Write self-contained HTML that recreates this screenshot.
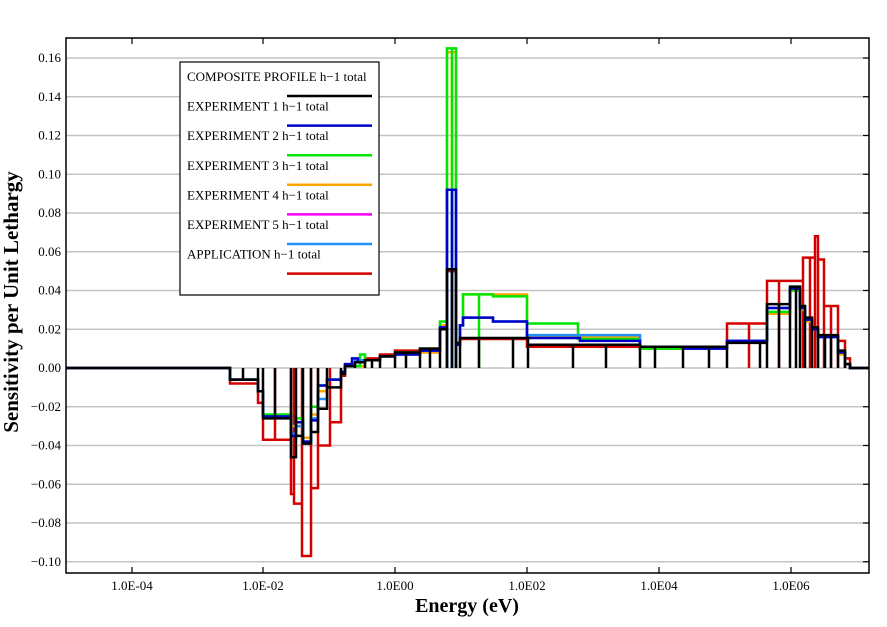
<!DOCTYPE html>
<html><head><meta charset="utf-8"><style>
body{margin:0;background:#fff;}
svg{display:block;font-family:"Liberation Serif",serif;}
</style></head><body>
<svg id="s" width="887" height="627" xmlns="http://www.w3.org/2000/svg">
<rect width="887" height="627" fill="#fff"/>
<g id="grid"></g>
<g id="series" fill="none" stroke-width="2.5" stroke-linejoin="miter"></g>
<rect x="66" y="38" width="803" height="535" fill="none" stroke="#000" stroke-width="1.5"/>
<g id="ticks" stroke="#000" stroke-width="1.2"></g>
<g id="labels" font-size="13"></g>
<text x="467" y="612" font-size="20" font-weight="bold" text-anchor="middle">Energy (eV)</text>
<text transform="translate(18,302) rotate(-90)" font-size="21" font-weight="bold" text-anchor="middle">Sensitivity per Unit Lethargy</text>
<g id="legend"></g>
</svg>
<script>
var NS="http://www.w3.org/2000/svg";
function el(p,t,a,txt){var e=document.createElementNS(NS,t);for(var k in a)e.setAttribute(k,a[k]);if(txt)e.textContent=txt;document.getElementById(p).appendChild(e);return e;}
function Y(v){return 368-v*1937.5;}
for(var i=-5;i<=8;i++){var v=i*0.02,y=Y(v);
 el("grid","line",{x1:66,x2:869,y1:y,y2:y,stroke:"#c4c4c4","stroke-width":1.5});
 el("ticks","line",{x1:863,x2:869,y1:y,y2:y});
 el("labels","text",{x:61,y:y+4,"text-anchor":"end"},v.toFixed(2).replace("-","\u2212"));}
var xl=[[132,"1.0E-04"],[263,"1.0E-02"],[395,"1.0E00"],[527,"1.0E02"],[659,"1.0E04"],[791,"1.0E06"]];
xl.forEach(function(a){el("ticks","line",{x1:a[0],x2:a[0],y1:573,y2:567});el("ticks","line",{x1:a[0],x2:a[0],y1:38,y2:44});
 el("labels","text",{x:a[0],y:590,"text-anchor":"middle"},a[1]);});
function val(d,x){var v=0;for(var i=0;i<d.length;i++){if(d[i][0]<=x)v=d[i][1];}return v;}
function draw(d,col,drops,all){
 var p="M66,368 H"+d[0][0];
 for(var i=0;i<d.length;i++){var y=Y(d[i][1]);p+=" V"+y+" H"+(i<d.length-1?d[i+1][0]:869);}
 if(all){for(var i=0;i<d.length-1;i++){var x=d[i][0];p+=" M"+x+",368 V"+Y(d[i][1]);p+=" M"+d[i+1][0]+",368 V"+Y(d[i][1]);}}
 (drops||[]).forEach(function(x){p+=" M"+x+",368 V"+Y(val(d,x));});
 el("series","path",{d:p,stroke:col});}
var red=[[230,-.008],[258,-.018],[263,-.037],[291,-.065],[294,-.070],[302,-.097],[311,-.062],[318,-.040],[330,-.028],[341,-.004],[345,.001],[355,.003],[365,.005],[380,.007],[395,.009],[420,.010],[440,.020],[447,.050],[456,.013],[460,.015],[527,.011],[640,.010],[683,.011],[727,.023],[767,.045],[803,.057],[815,.068],[818,.056],[824,.032],[838,.014],[845,.005],[850,0]];
var green=[[230,-.006],[258,-.012],[263,-.024],[291,-.035],[296,-.026],[303,-.038],[311,-.020],[318,-.009],[327,-.006],[341,-.002],[345,.001],[360,.007],[365,.004],[380,.006],[395,.008],[420,.010],[440,.024],[447,.165],[456,.013],[460,.022],[463,.038],[493,.037],[527,.023],[578,.015],[640,.010],[683,.011],[727,.014],[767,.029],[790,.040],[800,.032],[805,.025],[812,.021],[818,.017],[825,.016],[838,.009],[845,.002],[850,0]];
var orange=[[230,-.006],[258,-.012],[263,-.025],[291,-.030],[303,-.036],[311,-.024],[318,-.012],[327,-.006],[341,-.002],[345,.001],[365,.004],[380,.006],[395,.007],[420,.008],[440,.022],[447,.163],[456,.013],[460,.022],[463,.038],[527,.016],[640,.010],[683,.011],[727,.014],[767,.028],[790,.040],[800,.030],[805,.024],[812,.020],[818,.016],[838,.007],[845,.002],[850,0]];
var lblue=[[230,-.006],[258,-.012],[263,-.025],[291,-.034],[296,-.030],[303,-.038],[311,-.026],[318,-.016],[327,-.006],[341,-.002],[345,.002],[355,.004],[365,.004],[380,.006],[395,.007],[420,.009],[440,.021],[447,.092],[456,.012],[460,.022],[463,.026],[493,.024],[527,.017],[640,.011],[683,.010],[727,.014],[767,.031],[790,.041],[800,.031],[805,.025],[812,.020],[818,.016],[838,.008],[845,.002],[850,0]];
var blue=[[230,-.006],[258,-.012],[263,-.025],[291,-.035],[296,-.028],[303,-.038],[311,-.027],[318,-.009],[327,-.006],[341,-.002],[345,.002],[352,.005],[358,.003],[365,.004],[380,.006],[395,.007],[420,.009],[440,.021],[447,.092],[456,.012],[460,.022],[463,.026],[493,.024],[527,.0155],[580,.014],[640,.011],[683,.010],[727,.014],[767,.031],[790,.041],[800,.031],[805,.025],[812,.020],[818,.016],[825,.016],[838,.008],[845,.002],[850,0]];
var black=[[230,-.006],[243,-.006],[258,-.012],[263,-.026],[275,-.026],[291,-.046],[296,-.035],[303,-.039],[311,-.033],[318,-.021],[327,-.010],[341,-.003],[345,.001],[355,.003],[365,.004],[372,.004],[380,.006],[395,.008],[406,.008],[420,.010],[430,.010],[440,.020],[447,.051],[452,.051],[456,.013],[460,.0155],[479,.0155],[513,.0155],[528,.012],[573,.012],[606,.012],[640,.011],[655,.011],[683,.011],[709,.011],[727,.013],[760,.013],[767,.033],[779,.033],[790,.042],[796,.042],[800,.032],[805,.026],[812,.021],[818,.017],[825,.017],[831,.017],[838,.009],[845,.002],[850,0]];
var pk=[447,452,456];
draw(red,"#d40000",[275,291,294,302,311,318,330,749,779,803,810,815,818,824,831,838,845]);
draw(orange,"#ffa500",pk);
draw(green,"#00e600",pk.concat([479]));
draw(lblue,"#2090ff",pk);
draw(blue,"#0000c8",pk);
draw(black,"#000",[],true);
el("legend","rect",{x:180,y:62,width:199,height:233,fill:"#fff",stroke:"#000","stroke-width":1.2});
var L=[["COMPOSITE PROFILE h\u22121 total","#000"],["EXPERIMENT 1 h\u22121 total","#0000c8"],["EXPERIMENT 2 h\u22121 total","#00e600"],["EXPERIMENT 3 h\u22121 total","#ffa500"],["EXPERIMENT 4 h\u22121 total","#ff00ff"],["EXPERIMENT 5 h\u22121 total","#2090ff"],["APPLICATION h\u22121 total","#d40000"]];
L.forEach(function(a,i){var y=81+i*29.6;el("legend","text",{x:187,y:y,"font-size":"13"},a[0]);
 el("legend","line",{x1:287,x2:372,y1:y+15,y2:y+15,stroke:a[1],"stroke-width":2.5});});
</script>
</body></html>
